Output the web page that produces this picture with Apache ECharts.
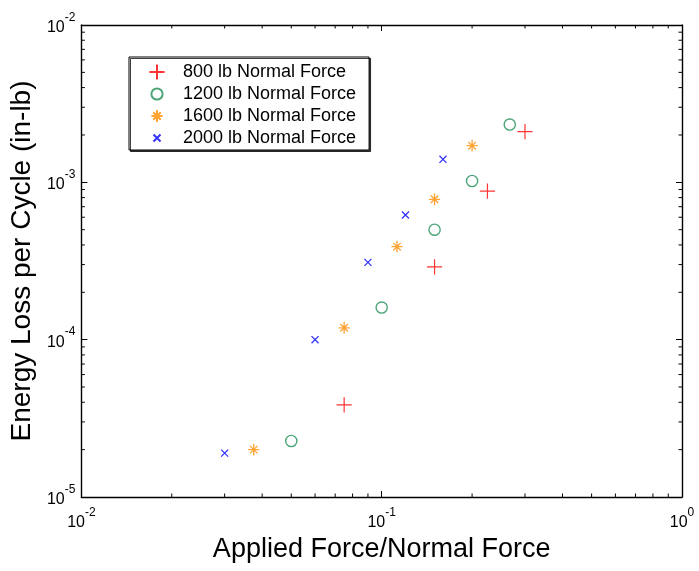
<!DOCTYPE html>
<html>
<head>
<meta charset="utf-8">
<script src="https://cdn.jsdelivr.net/npm/echarts@6/dist/echarts.min.js"></script>
<style>
  html, body { margin: 0; padding: 0; background: #ffffff; }
  #chart { width: 699px; height: 571px; }
</style>
</head>
<body>
<div id="chart"></div>
<script>
// Applied force ratio (x) and energy loss per cycle in in-lb (y) for each normal force
const seriesNames = ['800 lb Normal Force', '1200 lb Normal Force', '1600 lb Normal Force', '2000 lb Normal Force'];

const force800X = [0.075, 0.15, 0.225, 0.3];
const force800Y = [3.85e-5, 2.9e-4, 8.8e-4, 2.1e-3];

const force1200X = [0.05, 0.1, 0.15, 0.2, 0.267];
const force1200Y = [2.27e-5, 1.6e-4, 5.0e-4, 1.02e-3, 2.33e-3];

const force1600X = [0.0375, 0.075, 0.1125, 0.15, 0.2];
const force1600Y = [2.0e-5, 1.19e-4, 3.9e-4, 7.8e-4, 1.71e-3];

const force2000X = [0.03, 0.06, 0.09, 0.12, 0.16];
const force2000Y = [1.9e-5, 1.0e-4, 3.1e-4, 6.2e-4, 1.4e-3];

// Axis ranges and log minor tick positions
const xRange = [0.01, 1];
const yRange = [1e-5, 1e-2];
const xMinorTicks = [0.02, 0.03, 0.04, 0.05, 0.06, 0.07, 0.08, 0.09,
                     0.2, 0.3, 0.4, 0.5, 0.6, 0.7, 0.8, 0.9];
const yMinorTicks = [2e-5, 3e-5, 4e-5, 5e-5, 6e-5, 7e-5, 8e-5, 9e-5,
                     2e-4, 3e-4, 4e-4, 5e-4, 6e-4, 7e-4, 8e-4, 9e-4,
                     2e-3, 3e-3, 4e-3, 5e-3, 6e-3, 7e-3, 8e-3, 9e-3];

const FONT = '"Liberation Sans", Arial, sans-serif';

// Marker outlines share a [-1,1] frame (the two leading moves pin the frame)
const FRAME = 'M-1,-1M1,1';
const plusPath = 'path://' + FRAME + 'M0,-0.95L0,0.95M-0.95,0L0.95,0';
const circlePath = 'path://' + FRAME + 'M-0.7,0A0.7,0.7 0 1,0 0.7,0A0.7,0.7 0 1,0 -0.7,0Z';
const starPath = 'path://' + FRAME + 'M0,-0.74L0,0.74M-0.7,0L0.7,0M-0.47,-0.47L0.47,0.47M-0.47,0.47L0.47,-0.47M-0.14,-0.14L0.14,0.14M-0.14,0.14L0.14,-0.14';
const crossPath = 'path://' + FRAME + 'M-0.44,-0.44L0.44,0.44M-0.44,0.44L0.44,-0.44';

function pairs(xs, ys) {
  return xs.map((x, i) => [x, ys[i]]);
}

function powLabel(value) {
  const e = Math.round(Math.log10(value));
  return '{b|10}{s|' + e + '}';
}

const labelRich = {
  b: { fontFamily: FONT, fontSize: 16, color: '#000', lineHeight: 32 },
  s: { fontFamily: FONT, fontSize: 12, color: '#000', lineHeight: 12, verticalAlign: 'top' }
};

const axisLine = { show: true, lineStyle: { color: '#000', width: 1.4 } };
const majorTick = { show: true, inside: true, length: 6, lineStyle: { color: '#000', width: 1 } };

function scatterSeries(name, data, symbol, color, width) {
  return {
    name: name,
    type: 'scatter',
    data: data,
    symbol: symbol,
    symbolSize: 16,
    itemStyle: { color: 'rgba(0,0,0,0)', borderColor: color, borderWidth: width },
    emphasis: { disabled: true },
    z: 5
  };
}

// Log-spaced minor ticks drawn on all four sides through the axis scales
function minorTickSeries(values, isX) {
  return {
    type: 'custom',
    silent: true,
    z: 4,
    data: values.map(v => isX ? [v, yRange[0]] : [xRange[0], v]),
    renderItem: function (params, api) {
      const cs = params.coordSys;
      const p = api.coord([api.value(0), api.value(1)]);
      const L = 3.5;
      const style = { stroke: '#000', lineWidth: 1 };
      let shapes;
      if (isX) {
        const b = cs.y + cs.height, t = cs.y;
        shapes = [
          { x1: p[0], y1: b, x2: p[0], y2: b - L },
          { x1: p[0], y1: t, x2: p[0], y2: t + L }
        ];
      } else {
        const l = cs.x, r = cs.x + cs.width;
        shapes = [
          { x1: l, y1: p[1], x2: l + L, y2: p[1] },
          { x1: r, y1: p[1], x2: r - L, y2: p[1] }
        ];
      }
      return {
        type: 'group',
        children: shapes.map(s => ({ type: 'line', shape: s, style: style }))
      };
    }
  };
}

const chart = echarts.init(document.getElementById('chart'), null, { renderer: 'canvas' });

chart.setOption({
  animation: false,
  backgroundColor: '#ffffff',
  grid: { left: 80, right: 17, top: 25, bottom: 74, containLabel: false },
  legend: {
    data: seriesNames,
    orient: 'vertical',
    left: 129,
    top: 57,
    itemWidth: 42,
    itemHeight: 16,
    itemGap: 4,
    padding: [6, 13, 3, 19],
    backgroundColor: '#ffffff',
    borderColor: '#000',
    borderWidth: 1,
    shadowColor: 'rgba(0,0,0,0.75)',
    shadowOffsetX: 1.5,
    shadowOffsetY: 1.5,
    shadowBlur: 0,
    selectedMode: false,
    textStyle: { fontFamily: FONT, fontSize: 18, color: '#000' }
  },
  xAxis: [
    {
      type: 'log', logBase: 10, min: xRange[0], max: xRange[1], position: 'bottom',
      name: 'Applied Force/Normal Force', nameLocation: 'middle', nameGap: 39,
      nameTextStyle: { fontFamily: FONT, fontSize: 27, color: '#000' },
      axisLine: axisLine, axisTick: majorTick,
      axisLabel: { margin: 8, padding: [2, 0, 0, 0], formatter: powLabel, rich: labelRich },
      splitLine: { show: false }
    },
    {
      type: 'log', logBase: 10, min: xRange[0], max: xRange[1], position: 'top',
      axisLine: axisLine, axisTick: majorTick, axisLabel: { show: false },
      splitLine: { show: false }
    }
  ],
  yAxis: [
    {
      type: 'log', logBase: 10, min: yRange[0], max: yRange[1], position: 'left',
      name: 'Energy Loss per Cycle (in-lb)', nameLocation: 'middle', nameGap: 38,
      nameTextStyle: { fontFamily: FONT, fontSize: 28, color: '#000' },
      axisLine: axisLine, axisTick: majorTick,
      axisLabel: { margin: 6, padding: [5, 0, 0, 0], formatter: powLabel, rich: labelRich },
      splitLine: { show: false }
    },
    {
      type: 'log', logBase: 10, min: yRange[0], max: yRange[1], position: 'right',
      axisLine: axisLine, axisTick: majorTick, axisLabel: { show: false },
      splitLine: { show: false }
    }
  ],
  series: [
    scatterSeries(seriesNames[0], pairs(force800X, force800Y), plusPath, '#ff0000', 1.2),
    scatterSeries(seriesNames[1], pairs(force1200X, force1200Y), circlePath, '#1f8f55', 1.4),
    scatterSeries(seriesNames[2], pairs(force1600X, force1600Y), starPath, '#ff8c00', 1.3),
    scatterSeries(seriesNames[3], pairs(force2000X, force2000Y), crossPath, '#0000ff', 1.3),
    minorTickSeries(xMinorTicks, true),
    minorTickSeries(yMinorTicks, false)
  ]
});
</script>
</body>
</html>
